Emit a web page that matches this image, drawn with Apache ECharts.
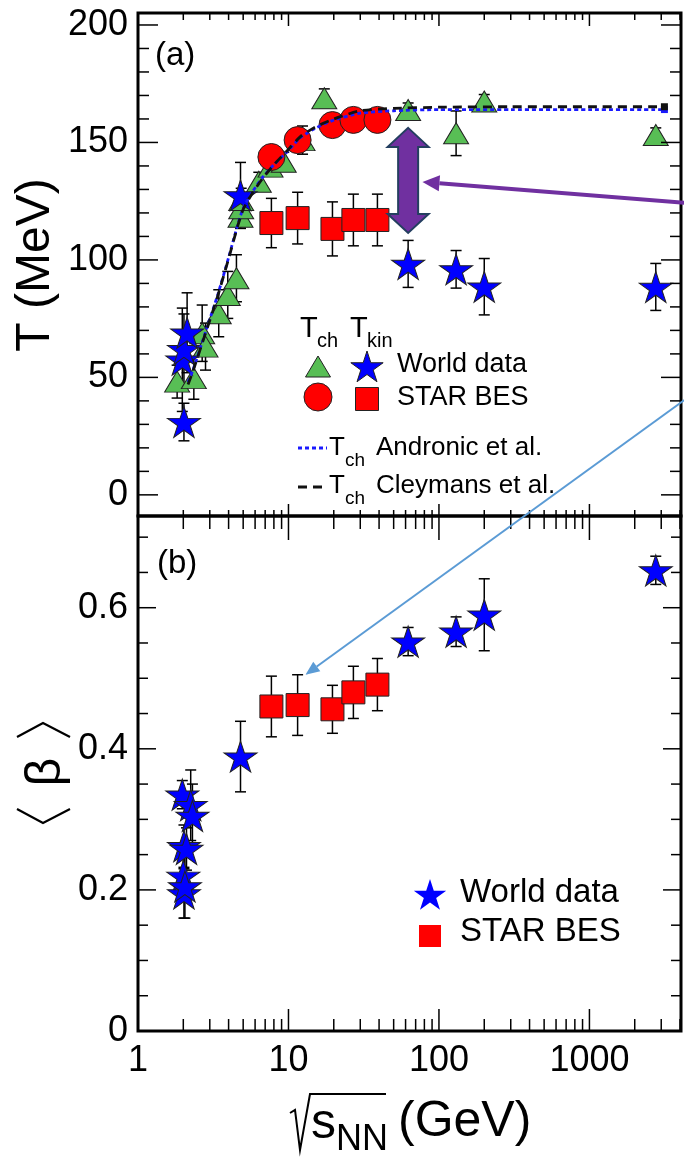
<!DOCTYPE html>
<html>
<head>
<meta charset="utf-8">
<script src="https://cdn.jsdelivr.net/npm/echarts@6/dist/echarts.min.js"></script>
<style>
  html, body { margin: 0; padding: 0; background: #fff; }
  #chart { width: 684px; height: 1157px; }
</style>
</head>
<body>
<div id="chart"></div>
<script>
// sqrt(s_NN) axis, GeV, log scale
var xMax = 4060;
var xMajorTicks = [1, 10, 100, 1000];
var xMinorTicks = [2, 3, 4, 5, 6, 7, 8, 9, 20, 30, 40, 50, 60, 70, 80, 90,
  200, 300, 400, 500, 600, 700, 800, 900, 2000, 3000, 4000];

// panel (a): T (MeV)
var tMin = -9, tMax = 205.1;
var tMajorTicks = [0, 50, 100, 150, 200];
var tMinorTicks = [10, 20, 30, 40, 60, 70, 80, 90, 110, 120, 130, 140, 160, 170, 180, 190];

// T_ch world data (triangles)
var tchWorldX = [1.82, 2.35, 2.67, 2.81, 3.44, 3.95, 4.51, 4.8, 4.85, 4.85, 6.35, 7.6, 9.3, 12.4, 17.3, 62.4, 130, 200, 2760];
var tchWorldT = [48.2, 49.7, 68.8, 63.1, 77.3, 85.1, 92.2, 118.4, 122, 125.5, 133.3, 139.7, 141.8, 151, 168.8, 163.8, 153.9, 167.4, 153.2];
var tchWorldErr = [7, 9, 12, 10, 10, 10, 10, 5, 5, 5, 4, 3, 4, 6, 4, 3, 9.5, 3, 3];

// T_kin world data (stars)
var tkinWorldX = [1.97, 2.02, 2.12, 2.02, 4.8, 62.4, 130, 200, 2760];
var tkinWorldT = [57.5, 62, 69, 31, 127.5, 98.3, 96, 88.6, 88.5];
var tkinWorldErr = [22, 15, 17, 8, 14, 10, 8, 12, 10];

// STAR BES
var starX = [7.7, 11.5, 19.6, 27, 39];
var tchStarT = [143.8, 151, 157.4, 159.6, 159.6];
var tkinStarT = [115.7, 117.8, 113.2, 117, 117];
var tkinStarErr = [10.5, 11, 11.5, 11, 11];

// model curves
var modelX = [2.15, 2.3, 2.8, 3.4, 4.0, 4.6, 5.0, 5.7, 6.7, 8.0, 9.8, 12, 15, 20, 30, 50, 100, 300, 1000, 3150];
var andronicT = [48, 52.5, 69, 85.5, 101, 115, 122, 128.5, 135, 140.5, 146, 152, 156, 159.5, 162.5, 163.5, 164, 164, 164, 164];
var cleymansT = [47, 52, 68.5, 85, 100.5, 114.5, 121.5, 128, 134.5, 140.5, 146.5, 152.5, 156.5, 160, 163.5, 164.5, 165, 165.2, 165.2, 165.2];

// panel (b): <beta>
var bMax = 0.73;
var bMajorTicks = [0, 0.2, 0.4, 0.6];
var bMinorTicks = [0.05, 0.1, 0.15, 0.25, 0.3, 0.35, 0.45, 0.5, 0.55, 0.65, 0.7];
var betaWorldX = [1.97, 2.24, 2.3, 2.02, 2.1, 2.0, 2.02, 2.05, 4.8, 62.4, 130, 200, 2760];
var betaWorld = [0.335, 0.32, 0.305, 0.262, 0.258, 0.22, 0.195, 0.205, 0.389, 0.552, 0.566, 0.59, 0.653];
var betaWorldErr = [0.02, 0.05, 0.045, 0.03, 0.03, 0.035, 0.035, 0.045, 0.05, 0.02, 0.021, 0.051, 0.02];
var betaStar = [0.46, 0.462, 0.456, 0.48, 0.491];
var betaStarErr = [0.043, 0.043, 0.034, 0.037, 0.037];

// annotations (data units)
var gapArrowX = 62.4, gapArrowT = [156.2, 111.5];
var purpleFrom = [4276, 124.3], purpleTo = [77.7, 133.2];
var blueFrom = [4276, 40.4], blueTo = [12.97, 0.505];

var font = 'Liberation Sans, Arial, Helvetica, sans-serif';
var starPath = 'M0,-10L2.245,-3.09L9.511,-3.09L3.633,1.18L5.878,8.09L0,3.82L-5.878,8.09L-3.633,1.18L-9.511,-3.09L-2.245,-3.09Z';
var green = '#58be55', red = '#ff0000', blue = '#0000ff';

var chart = echarts.init(document.getElementById('chart'));

function pairs(xs, ys) {
  return xs.map(function (x, i) { return [x, ys[i]]; });
}

function seg(x1, y1, x2, y2, w, c) {
  return { type: 'line', shape: { x1: x1, y1: y1, x2: x2, y2: y2 },
    style: { stroke: c || '#000', lineWidth: w || 1.5 } };
}

// frame ticks (inward, on all four sides)
function tickSeries(gi, yMin, yMax, yMajor, yMinor, len) {
  var data = [];
  xMajorTicks.forEach(function (v) { data.push([v, yMin, 0]); });
  xMinorTicks.forEach(function (v) { data.push([v, yMin, 1]); });
  yMajor.forEach(function (v) { data.push([1, v, 2]); });
  yMinor.forEach(function (v) { data.push([1, v, 3]); });
  return {
    type: 'custom', xAxisIndex: gi, yAxisIndex: gi, silent: true, z: 10,
    data: data,
    renderItem: function (params, api) {
      var kind = api.value(2), v;
      if (kind < 2) {
        v = api.value(0);
        var b = api.coord([v, yMin]), t = api.coord([v, yMax]);
        var lb = kind === 0 ? len.bottom[0] : len.bottom[1];
        var lt = kind === 0 ? len.top[0] : len.top[1];
        return { type: 'group', children: [
          seg(b[0], b[1], b[0], b[1] - lb), seg(t[0], t[1], t[0], t[1] + lt)] };
      }
      v = api.value(1);
      var l = api.coord([1, v]), r = api.coord([xMax, v]);
      var ll = kind === 2 ? len.side[0] : len.side[1];
      return { type: 'group', children: [
        seg(l[0], l[1], l[0] + ll, l[1]), seg(r[0], r[1], r[0] - ll, r[1])] };
    }
  };
}

function errSeries(gi, xs, ys, es) {
  return {
    type: 'custom', xAxisIndex: gi, yAxisIndex: gi, silent: true, z: 2,
    data: xs.map(function (x, i) { return [x, ys[i] - es[i], ys[i] + es[i]]; }),
    encode: { x: 0, y: [1, 2] },
    renderItem: function (params, api) {
      var lo = api.coord([api.value(0), api.value(1)]);
      var hi = api.coord([api.value(0), api.value(2)]);
      var w = 5.5;
      return { type: 'group', children: [
        seg(lo[0], lo[1], hi[0], hi[1]),
        seg(lo[0] - w, lo[1], lo[0] + w, lo[1]),
        seg(hi[0] - w, hi[1], hi[0] + w, hi[1])] };
    }
  };
}

function scatter(gi, data, symbol, size, color, z) {
  return {
    type: 'scatter', xAxisIndex: gi, yAxisIndex: gi, z: z || 3,
    symbol: symbol, symbolSize: size, data: data, silent: true,
    itemStyle: { color: color, borderColor: '#222', borderWidth: 1, opacity: 1 }
  };
}

function modelLine(ys, color, dash) {
  var data = pairs(modelX, ys);
  data[data.length - 1] = { value: data[data.length - 1], symbol: 'rect', symbolSize: 7 };
  return {
    type: 'line', xAxisIndex: 0, yAxisIndex: 0, z: 4, silent: true,
    data: data, smooth: 0.2, showSymbol: true, symbol: 'none',
    itemStyle: { color: color },
    lineStyle: { color: color, width: 2.8, type: dash }
  };
}

var labelStyle = { fontFamily: font, fontSize: 36, color: '#000' };

var option = {
  animation: false,
  backgroundColor: '#fff',
  grid: [
    { left: 138, top: 13, width: 543, height: 503, show: true, borderColor: '#000', borderWidth: 3 },
    { left: 138, top: 516, width: 543, height: 515, show: true, borderColor: '#000', borderWidth: 3 }
  ],
  xAxis: [
    { gridIndex: 0, type: 'log', logBase: 10, min: 1, max: xMax,
      axisLine: { show: false }, axisTick: { show: false }, axisLabel: { show: false }, splitLine: { show: false } },
    { gridIndex: 1, type: 'log', logBase: 10, min: 1, max: xMax,
      axisLine: { show: false }, axisTick: { show: false }, splitLine: { show: false },
      axisLabel: Object.assign({ margin: 12, showMinLabel: true,
        formatter: function (v) {
          var l = Math.log(v) / Math.LN10;
          return Math.abs(l - Math.round(l)) < 1e-6 ? String(Math.round(v)) : '';
        } }, labelStyle) }
  ],
  yAxis: [
    { gridIndex: 0, type: 'value', min: tMin, max: tMax,
      axisLine: { show: false }, axisTick: { show: false }, splitLine: { show: false },
      axisLabel: Object.assign({ customValues: tMajorTicks, margin: 10 }, labelStyle) },
    { gridIndex: 1, type: 'value', min: 0, max: bMax,
      axisLine: { show: false }, axisTick: { show: false }, splitLine: { show: false },
      axisLabel: Object.assign({ customValues: bMajorTicks, margin: 10,
        formatter: function (v) { return v === 0 ? '0' : v.toFixed(1); } }, labelStyle) }
  ],
  series: [
    tickSeries(0, tMin, tMax, tMajorTicks, tMinorTicks,
      { bottom: [12, 6], top: [13, 7], side: [20, 11] }),
    errSeries(0, tchWorldX, tchWorldT, tchWorldErr),
    errSeries(0, tkinWorldX, tkinWorldT, tkinWorldErr),
    errSeries(0, starX, tkinStarT, tkinStarErr),
    scatter(0, pairs(tchWorldX, tchWorldT), 'triangle', [25, 21], green),
    scatter(0, pairs(starX, tchStarT), 'circle', 27, red),
    scatter(0, pairs(starX, tkinStarT), 'rect', 23, red),
    scatter(0, pairs(tkinWorldX, tkinWorldT), 'path://' + starPath, [33, 31], blue),
    modelLine(andronicT, '#1a1aff', [4, 3]),
    modelLine(cleymansT, '#111', [9, 6]),

    tickSeries(1, 0, bMax, bMajorTicks, bMinorTicks,
      { bottom: [22, 12], top: [24, 13], side: [18, 10] }),
    errSeries(1, betaWorldX, betaWorld, betaWorldErr),
    errSeries(1, starX, betaStar, betaStarErr),
    scatter(1, pairs(betaWorldX, betaWorld), 'path://' + starPath, [33, 31], blue),
    scatter(1, pairs(starX, betaStar), 'rect', 23, red)
  ]
};

chart.setOption(option);

function px(gi, p) {
  return chart.convertToPixel({ gridIndex: gi }, p);
}

function text(x, y, s, size, extra) {
  return Object.assign({
    type: 'text', x: x, y: y, z: 50, silent: true,
    style: { text: s, font: size + 'px ' + font, fill: '#000', align: 'left', verticalAlign: 'middle' }
  }, extra || {});
}

function starPoints(cx, cy, R) {
  var pts = [];
  for (var i = 0; i < 10; i++) {
    var a = -Math.PI / 2 + i * Math.PI / 5, r = i % 2 ? R * 0.382 : R;
    pts.push([cx + r * Math.cos(a), cy + r * Math.sin(a)]);
  }
  return pts;
}

function arrow(S, E, color, width, headLen, headHalf) {
  var dx = E[0] - S[0], dy = E[1] - S[1], L = Math.sqrt(dx * dx + dy * dy);
  var ux = dx / L, uy = dy / L;
  var bx = E[0] - ux * headLen, by = E[1] - uy * headLen;
  return [
    { type: 'line', z: 40, silent: true, shape: { x1: S[0], y1: S[1], x2: bx, y2: by },
      style: { stroke: color, lineWidth: width } },
    { type: 'polygon', z: 40, silent: true,
      shape: { points: [E, [bx - uy * headHalf, by + ux * headHalf], [bx + uy * headHalf, by - ux * headHalf]] },
      style: { fill: color } }
  ];
}

var g = [];

// T_ch - T_kin gap arrow
var gapTop = px(0, [gapArrowX, gapArrowT[0]]), gapBot = px(0, [gapArrowX, gapArrowT[1]]);
var cx = gapTop[0], hw = 20.5, sw = 10, hl = 19, yt = gapTop[1], yb = gapBot[1];
g.push({ type: 'polygon', z: 40, silent: true,
  shape: { points: [[cx, yt], [cx + hw, yt + hl], [cx + sw, yt + hl], [cx + sw, yb - hl],
    [cx + hw, yb - hl], [cx, yb], [cx - hw, yb - hl], [cx - sw, yb - hl],
    [cx - sw, yt + hl], [cx - hw, yt + hl]] },
  style: { fill: '#7030a0', stroke: '#243f60', lineWidth: 2 } });
g = g.concat(arrow(px(0, purpleFrom), px(0, purpleTo), '#7030a0', 4, 17, 8));
g = g.concat(arrow(px(0, blueFrom), px(1, blueTo), '#5b9bd5', 2, 14, 6));

// panel labels
g.push(text(155, 56, '(a)', 33));
g.push(text(157, 564, '(b)', 33));

// legend, panel (a)
g.push(text(300, 329, 'T', 29), text(317, 341, 'ch', 20));
g.push(text(350, 329, 'T', 29), text(367, 341, 'kin', 20));
g.push({ type: 'polygon', z: 50, silent: true,
  shape: { points: [[318, 356], [305.5, 377], [330.5, 377]] },
  style: { fill: green, stroke: '#222', lineWidth: 1 } });
g.push({ type: 'polygon', z: 50, silent: true, shape: { points: starPoints(367, 368, 17) },
  style: { fill: blue, stroke: '#222', lineWidth: 1 } });
g.push(text(397, 365, 'World data', 27));
g.push({ type: 'circle', z: 50, silent: true, shape: { cx: 318, cy: 397, r: 14 },
  style: { fill: red, stroke: '#222', lineWidth: 1 } });
g.push({ type: 'rect', z: 50, silent: true, shape: { x: 355.5, y: 387.5, width: 23, height: 23 },
  style: { fill: red, stroke: '#222', lineWidth: 1 } });
g.push(text(397, 398, 'STAR BES', 27));
g.push({ type: 'line', z: 50, silent: true, shape: { x1: 298, y1: 448, x2: 327, y2: 448 },
  style: { stroke: '#1a1aff', lineWidth: 3, lineDash: [4, 3] } });
g.push(text(329, 448, 'T', 26), text(345, 461, 'ch', 19), text(376, 448, 'Andronic et al.', 26));
g.push({ type: 'line', z: 50, silent: true, shape: { x1: 298, y1: 487, x2: 327, y2: 487 },
  style: { stroke: '#111', lineWidth: 3, lineDash: [9, 6] } });
g.push(text(329, 486, 'T', 26), text(345, 499, 'ch', 19), text(376, 486, 'Cleymans et al.', 26));

// legend, panel (b)
g.push({ type: 'polygon', z: 50, silent: true, shape: { points: starPoints(430, 896, 17) },
  style: { fill: blue } });
g.push(text(460, 893, 'World data', 33));
g.push({ type: 'rect', z: 50, silent: true, shape: { x: 419, y: 925, width: 22, height: 22 },
  style: { fill: red } });
g.push(text(460, 932, 'STAR BES', 33));

// axis titles
g.push(text(36, 265, 'T (MeV)', 48, { rotation: Math.PI / 2, style: {
  text: 'T (MeV)', font: '48px ' + font, fill: '#000', align: 'center', verticalAlign: 'middle' } }));
g.push(text(46, 772, '\u03b2', 50, { rotation: Math.PI / 2, style: {
  text: '\u03b2', font: '50px ' + font, fill: '#000', align: 'center', verticalAlign: 'middle' } }));
g.push({ type: 'polyline', z: 50, silent: true,
  shape: { points: [[17, 737], [43, 723], [70, 737]] }, style: { stroke: '#000', lineWidth: 2.2, fill: null } });
g.push({ type: 'polyline', z: 50, silent: true,
  shape: { points: [[17, 809], [43, 823], [70, 809]] }, style: { stroke: '#000', lineWidth: 2.2, fill: null } });
g.push({ type: 'polyline', z: 50, silent: true,
  shape: { points: [[290, 1113], [295, 1110], [300, 1150], [310, 1094], [386, 1094]] },
  style: { stroke: '#000', lineWidth: 2, fill: null } });
g.push(text(311, 1124, 's', 50), text(336, 1140, 'NN', 36), text(398, 1122, '(GeV)', 50));

chart.setOption({ graphic: g });
</script>
</body>
</html>
